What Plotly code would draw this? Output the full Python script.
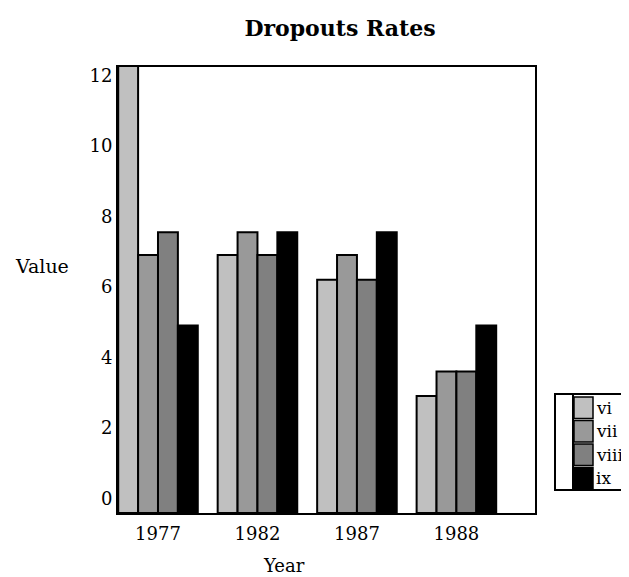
import plotly.graph_objects as go

years = ["1977", "1982", "1987", "1988"]
series_names = ["vi", "vii", "viii", "ix"]
vi = [12.3, 6.9, 6.2, 2.9]
vii = [6.9, 7.55, 6.9, 3.6]
viii = [7.55, 6.9, 6.2, 3.6]
ix = [4.9, 7.55, 7.55, 4.9]
series_values = [vi, vii, viii, ix]
colors = ["#c0c0c0", "#999999", "#808080", "#000000"]
y_ticks = [0, 2, 4, 6, 8, 10, 12]

YMIN = -0.42
YMAX = 12.24
FONT = "DejaVu Serif"

# page has an 8px body margin; work in figure pixels
OFF = 8
W, H = 629 - OFF, 577 - OFF
L, R, T, B = 118 - OFF, 535 - OFF, 67 - OFF, 513 - OFF
PW, PH = R - L, B - T


def px(x):  # reference-screen x -> paper
    return (x - OFF - L) / PW


def py(y):  # reference-screen y -> paper
    return (B - (y - OFF)) / PH


fig = go.Figure()
for name, vals, col in zip(series_names, series_values, colors):
    fig.add_trace(go.Bar(
        name=name, x=years, y=[v - YMIN for v in vals], base=YMIN,
        marker=dict(color=col, line=dict(color="black", width=2)),
        showlegend=False,
    ))

fig.update_layout(
    width=W, height=H,
    margin=dict(l=L, r=W - R, t=T, b=H - B, autoexpand=False),
    paper_bgcolor="white", plot_bgcolor="white",
    barmode="group", bargap=0.2, bargroupgap=0,
    font=dict(family=FONT, size=18, color="black"),
    title=dict(text="<b>Dropouts Rates</b>", x=(340 - OFF) / W, xanchor="center",
               y=1 - (28 - OFF) / H, yanchor="middle", font=dict(size=22)),
    xaxis=dict(type="category", range=[-0.402, 3.79], showgrid=False,
               showline=True, linecolor="black", linewidth=2, mirror=True,
               ticks="", tickfont=dict(size=18), ticklabelstandoff=3),
    yaxis=dict(range=[YMIN, YMAX], tickvals=y_ticks, showgrid=False,
               zeroline=False, showline=True, linecolor="black", linewidth=2,
               mirror=True, ticks="", tickfont=dict(size=18)),
)
fig.add_annotation(text="Year", xref="paper", yref="paper", x=px(284),
                   y=py(565), showarrow=False, font=dict(size=18),
                   xanchor="center", yanchor="middle")
fig.add_annotation(text="Value", xref="paper", yref="paper", x=px(42),
                   y=py(266), showarrow=False, font=dict(size=19),
                   xanchor="center", yanchor="middle")

# manual legend
fig.add_shape(type="rect", xref="paper", yref="paper",
              x0=px(555), x1=px(660), y0=py(394), y1=py(490),
              line=dict(color="black", width=2), fillcolor="white")
fig.add_shape(type="line", xref="paper", yref="paper",
              x0=px(573), x1=px(573), y0=py(394), y1=py(490),
              line=dict(color="black", width=2))
item_h = (490 - 396) / len(series_names)
for i, (name, col) in enumerate(zip(series_names, colors)):
    top = 396 + i * item_h
    fig.add_shape(type="rect", xref="paper", yref="paper",
                  x0=px(574), x1=px(593), y0=py(top + 1), y1=py(top + item_h - 1),
                  line=dict(color="black", width=1.5), fillcolor=col)
    fig.add_annotation(text=name, xref="paper", yref="paper", x=px(594),
                       y=py(top + item_h / 2), xanchor="left", yanchor="middle",
                       showarrow=False, font=dict(size=17))

fig.write_html("out.html")
